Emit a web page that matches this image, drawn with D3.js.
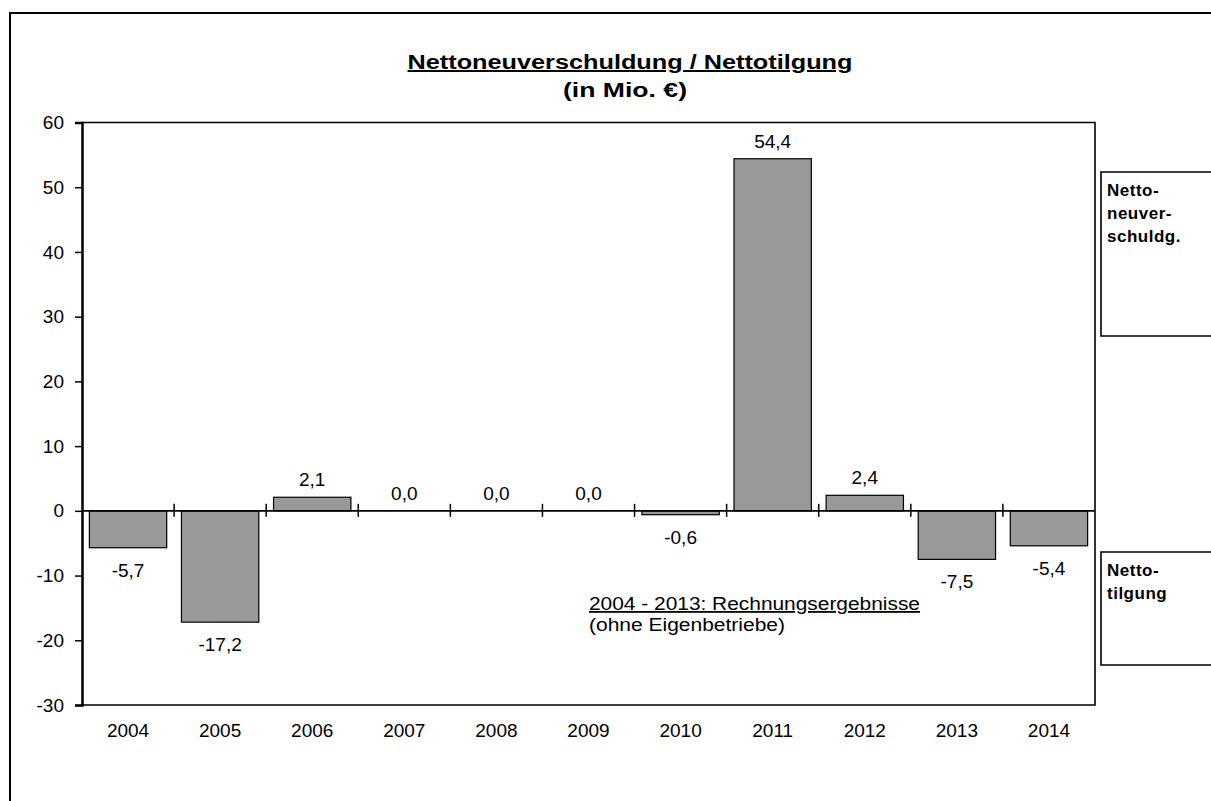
<!DOCTYPE html>
<html>
<head>
<meta charset="utf-8">
<script src="https://cdn.jsdelivr.net/npm/d3@7"></script>
<style>
  body { margin: 0; background: #fff; }
  text { font-family: "Liberation Sans", Arial, sans-serif; fill: #000; }
</style>
</head>
<body>
<div id="chart"></div>
<script>
// Data
var years = ["2004", "2005", "2006", "2007", "2008", "2009", "2010", "2011", "2012", "2013", "2014"];
var values = [-5.7, -17.2, 2.1, 0.0, 0.0, 0.0, -0.6, 54.4, 2.4, -7.5, -5.4];
var yTicks = [-30, -20, -10, 0, 10, 20, 30, 40, 50, 60];
var titleLines = ["Nettoneuverschuldung / Nettotilgung", "(in Mio. €)"];
var noteLines = ["2004 - 2013: Rechnungsergebnisse", "(ohne  Eigenbetriebe)"];
var sideLabels = [["Netto-", "neuver-", "schuldg."], ["Netto-", "tilgung"]];

var width = 1211, height = 801;
var plotLeft = 82, plotRight = 1095, plotTop = 122.5, plotBottom = 705;

var svg = d3.select("#chart")
  .append("svg")
  .attr("width", width)
  .attr("height", height);

// outer frame (only top and left edges visible)
svg.append("path")
  .attr("d", "M10," + height + " V13 H" + width)
  .attr("fill", "none")
  .attr("stroke", "#000")
  .attr("stroke-width", 2);

// Scales
var x = d3.scaleBand()
  .domain(years)
  .range([plotLeft, plotRight])
  .paddingInner(0.16)
  .paddingOuter(0.08);

var y = d3.scaleLinear()
  .domain([-30, 60])
  .range([plotBottom, plotTop]);

var fmt = function(v) { return d3.format(".1f")(v).replace(".", ",").replace("−", "-"); };

// Title (glyphs stretched a bit, like the original export)
svg.append("text")
  .attr("x", 630).attr("y", 69)
  .attr("text-anchor", "middle")
  .attr("font-size", 20).attr("font-weight", "bold")
  .attr("text-decoration", "underline")
  .attr("textLength", 445)
  .attr("lengthAdjust", "spacingAndGlyphs")
  .text(titleLines[0]);
svg.append("text")
  .attr("x", 625).attr("y", 97)
  .attr("text-anchor", "middle")
  .attr("font-size", 20).attr("font-weight", "bold")
  .attr("textLength", 124)
  .attr("lengthAdjust", "spacingAndGlyphs")
  .text(titleLines[1]);

// plot border (top, right and bottom)
svg.append("path")
  .attr("d", "M" + plotLeft + "," + plotTop + " H" + plotRight + " V" + plotBottom + " H" + plotLeft)
  .attr("fill", "none")
  .attr("stroke", "#000")
  .attr("stroke-width", 1.6);

// Bars
svg.selectAll(".bar")
  .data(values)
  .enter()
  .append("rect")
  .attr("class", "bar")
  .attr("x", function(d, i) { return x(years[i]); })
  .attr("width", x.bandwidth())
  .attr("y", function(d) { return y(Math.max(d, 0)); })
  .attr("height", function(d) { return Math.abs(y(d) - y(0)); })
  .attr("fill", "#999999")
  .attr("stroke", "#000")
  .attr("stroke-width", 1.2);

// Zero line with category ticks
svg.append("line")
  .attr("x1", plotLeft).attr("x2", plotRight)
  .attr("y1", y(0)).attr("y2", y(0))
  .attr("stroke", "#000").attr("stroke-width", 1.6);

svg.selectAll(".xtick")
  .data(years.slice(1))
  .enter()
  .append("line")
  .attr("class", "xtick")
  .attr("x1", function(d) { return x(d) - x.step() * x.paddingInner() / 2; })
  .attr("x2", function(d) { return x(d) - x.step() * x.paddingInner() / 2; })
  .attr("y1", y(0) - 7).attr("y2", y(0) + 6)
  .attr("stroke", "#000").attr("stroke-width", 1.5);

// Y axis
var yAxis = d3.axisLeft(y)
  .tickValues(yTicks)
  .tickSize(7)
  .tickPadding(11)
  .tickFormat(function(d) { return String(d); });

var gy = svg.append("g")
  .attr("transform", "translate(" + plotLeft + ",0)")
  .call(yAxis);
gy.select(".domain").attr("stroke-width", 2.5);
gy.selectAll(".tick line").attr("stroke-width", 1.5);
gy.selectAll(".tick text")
  .attr("font-size", 19)
  .attr("font-family", "Liberation Sans, Arial, sans-serif");

// Category labels
svg.selectAll(".xlabel")
  .data(years)
  .enter()
  .append("text")
  .attr("class", "xlabel")
  .attr("x", function(d) { return x(d) + x.bandwidth() / 2; })
  .attr("y", 737)
  .attr("text-anchor", "middle")
  .attr("font-size", 19)
  .text(function(d) { return d; });

// Value labels
svg.selectAll(".vlabel")
  .data(values)
  .enter()
  .append("text")
  .attr("class", "vlabel")
  .attr("x", function(d, i) { return x(years[i]) + x.bandwidth() / 2; })
  .attr("y", function(d) { return d >= 0 ? y(d) - 11 : y(d) + 29; })
  .attr("text-anchor", "middle")
  .attr("font-size", 19)
  .text(function(d) { return fmt(d); });

// Note
svg.append("text")
  .attr("x", 589).attr("y", 610)
  .attr("font-size", 18)
  .attr("text-decoration", "underline")
  .attr("textLength", 331)
  .attr("lengthAdjust", "spacingAndGlyphs")
  .text(noteLines[0]);
svg.append("text")
  .attr("x", 589).attr("y", 631)
  .attr("font-size", 18)
  .attr("textLength", 196)
  .attr("lengthAdjust", "spacingAndGlyphs")
  .text(noteLines[1]);

// Side boxes
var boxes = [{y0: 172, y1: 336}, {y0: 552, y1: 665}];
boxes.forEach(function(b, k) {
  svg.append("path")
    .attr("d", "M" + width + "," + b.y0 + " H1101 V" + b.y1 + " H" + width)
    .attr("fill", "none")
    .attr("stroke", "#000")
    .attr("stroke-width", 1.6);
  svg.append("g")
    .selectAll("text")
    .data(sideLabels[k])
    .enter()
    .append("text")
    .attr("x", 1107)
    .attr("y", function(d, i) { return b.y0 + 24 + i * 23; })
    .attr("font-size", 17)
    .attr("font-weight", "bold")
    .attr("letter-spacing", 0.5)
    .text(function(d) { return d; });
});
</script>
</body>
</html>
